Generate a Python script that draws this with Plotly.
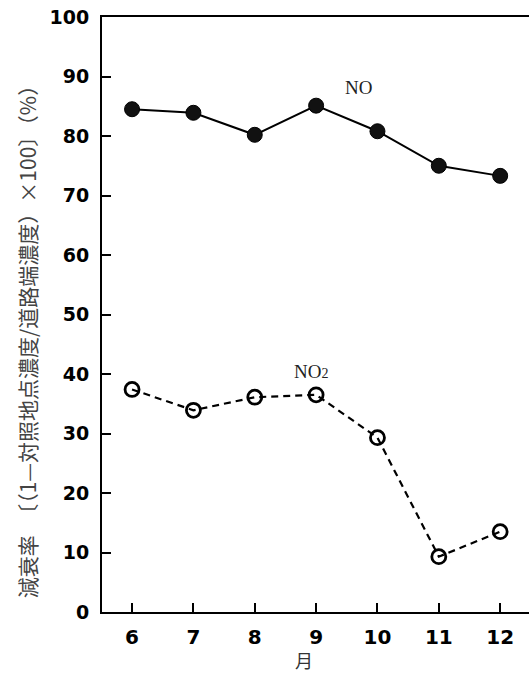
import plotly.graph_objects as go

months = [6, 7, 8, 9, 10, 11, 12]
no_vals = [84.5, 83.9, 80.2, 85.1, 80.8, 75.0, 73.3]
no2_vals = [37.4, 33.9, 36.1, 36.5, 29.3, 9.3, 13.5]
y_ticks = [0, 10, 20, 30, 40, 50, 60, 70, 80, 90, 100]

fig = go.Figure()
fig.add_trace(go.Scatter(
    x=months, y=no_vals, mode="lines+markers",
    line=dict(color="black", width=2),
    marker=dict(symbol="circle", size=15, color="#111", line=dict(color="black", width=1)),
    showlegend=False, cliponaxis=False))
fig.add_trace(go.Scatter(
    x=months, y=no2_vals, mode="lines+markers",
    line=dict(color="black", width=2.2, dash="7px,5px"),
    marker=dict(symbol="circle-open", size=14, color="black", line=dict(color="black", width=2.8)),
    showlegend=False, cliponaxis=False))

fig.add_annotation(x=9.69, y=88.1, text="NO", showarrow=False,
                   font=dict(family="Liberation Serif", size=19, color="#222"))
fig.add_annotation(x=8.92, y=40.5, text="NO<span style='font-size:14px'>2</span>", showarrow=False,
                   font=dict(family="Liberation Serif", size=19, color="#222"))

fig.add_annotation(xref="paper", yref="paper", x=-0.215, y=0.462,
                   text="減衰率　〔（1—対照地点濃度/道路端濃度）×100〕（%）",
                   textangle=-90, showarrow=False,
                   font=dict(family="Noto Sans CJK JP", size=21, color="#444"))
fig.add_annotation(xref="paper", yref="paper", x=0.472, y=-0.081,
                   text="月", showarrow=False, yanchor="middle",
                   font=dict(family="Noto Sans CJK JP", size=18, color="#333"))

tickfont = dict(family="DejaVu Sans", size=19, color="black", weight="bold")
fig.update_xaxes(range=[5.51, 12.47], tickvals=months, ticktext=[str(m) for m in months],
                 showline=True, linecolor="black", linewidth=2, mirror=True,
                 ticks="inside", ticklen=9, tickwidth=2, tickcolor="black",
                 showgrid=False, zeroline=False, ticklabelstandoff=6,
                 tickfont=dict(tickfont, size=20))
fig.update_yaxes(range=[0, 100], tickvals=y_ticks,
                 showline=True, linecolor="black", linewidth=2,
                 ticks="inside", ticklen=9, tickwidth=2, tickcolor="black",
                 showgrid=False, zeroline=False, ticklabelstandoff=7,
                 tickfont=tickfont)

fig.update_layout(width=529, height=675, margin=dict(l=102, r=0, t=17, b=63),
                  plot_bgcolor="white", paper_bgcolor="white")
fig.write_html("out.html")
